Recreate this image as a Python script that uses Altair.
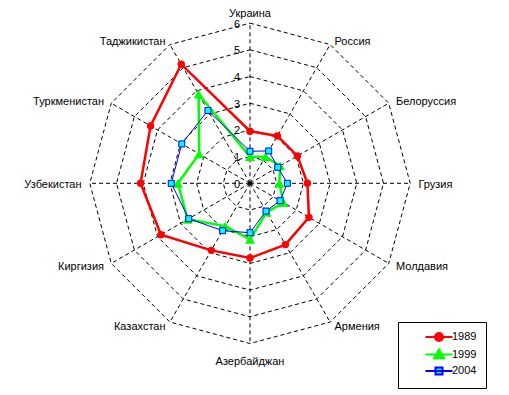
import altair as alt
import pandas as pd

categories = ["Украина", "Россия", "Белоруссия", "Грузия", "Молдавия", "Армения",
              "Азербайджан", "Казахстан", "Киргизия", "Узбекистан", "Туркменистан", "Таджикистан"]
series_names = ["1989", "1999", "2004"]
v1989 = [1.95, 2.05, 2.05, 2.15, 2.55, 2.65, 2.8, 2.9, 3.85, 4.1, 4.3, 5.15]
v1999 = [1.0, 1.15, 1.3, 1.1, 1.45, 1.25, 2.1, 1.85, 2.7, 2.7, 2.2, 3.85]
v2004 = [1.2, 1.4, 1.2, 1.4, 1.3, 1.2, 1.85, 2.05, 2.65, 2.95, 2.95, 3.15]
levels = [1, 2, 3, 4, 5, 6]
tick_labels = ["0", "1", "2", "3", "4", "5", "6"]

line_colors = ["#FF0000", "#00FF00", "#0000FF"]
marker_fill = ["#FF0000", "#00FF00", "#00FFFF"]
line_widths = [2.5, 2.5, 1]
marker_shapes = ["circle", "triangle-up", "square"]
marker_sizes = [55, 100, 36]
legend_paths = [
    "M-2.7,0H2.7M-0.8,0A0.8,0.8 0 1,0 0.8,0A0.8,0.8 0 1,0 -0.8,0Z",
    "M-2.7,0H2.7M0,-1L1,0.75L-1,0.75Z",
    "M-2.7,0H2.7M-0.7,-0.7H0.7V0.7H-0.7Z",
]

N = len(categories)
FONT = "Liberation Sans"
W, H = 493, 379
Y_TOP = 6.566
XS = alt.Scale(domain=[-9.064, 9.401], nice=False, zero=False)
YS = alt.Scale(domain=[-7.629, Y_TOP], nice=False, zero=False)
ANG = f"datum.i * 2 * PI / {N}"


def xy(chart, rfield):
    return chart.transform_calculate(
        a=ANG,
        x=f"{rfield} * sin(datum.a)",
        y=f"{rfield} * cos(datum.a)",
    )


X = alt.X("x:Q", scale=XS, axis=None)
Y = alt.Y("y:Q", scale=YS, axis=None)

# grid rings
ring_df = pd.DataFrame([{"lev": L, "i": k % N, "o": k} for L in levels for k in range(N + 1)])
rings = xy(alt.Chart(ring_df), "datum.lev").mark_line(
    color="black", strokeWidth=1, strokeDash=[4, 3]
).encode(x=X, y=Y, detail="lev:N", order="o:Q")

# spokes
spoke_df = pd.DataFrame({"i": list(range(N)), "r": [max(levels)] * N})
spokes = alt.Chart(spoke_df).transform_calculate(
    a=ANG,
    z="0",
    x2="datum.r * sin(datum.a)",
    y2="datum.r * cos(datum.a)",
).mark_rule(color="black", strokeWidth=1, strokeDash=[4, 3]).encode(
    x=alt.X("z:Q", scale=XS, axis=None),
    y=alt.Y("z:Q", scale=YS, axis=None),
    x2="x2:Q",
    y2="y2:Q",
)

layers = [rings, spokes]

# series
for idx, (name, vals) in enumerate(zip(series_names, [v1989, v1999, v2004])):
    df = pd.DataFrame({"i": [k % N for k in range(N + 1)], "o": list(range(N + 1)),
                       "v": [vals[k % N] for k in range(N + 1)]})
    ln = xy(alt.Chart(df), "datum.v").mark_line(
        color=line_colors[idx], strokeWidth=line_widths[idx]
    ).encode(x=X, y=Y, order="o:Q")
    if name == "2004":
        stroke_kw = dict(stroke=line_colors[idx], strokeWidth=1)
    else:
        stroke_kw = dict(strokeWidth=0)
    pt = xy(alt.Chart(df), "datum.v").transform_filter(f"datum.o < {N}").mark_point(
        shape=marker_shapes[idx], filled=True, fill=marker_fill[idx], opacity=1,
        size=marker_sizes[idx], **stroke_kw
    ).encode(x=X, y=Y)
    layers += [ln, pt]

# center dot
center = alt.Chart(pd.DataFrame({"v": [0]})).mark_point(
    filled=True, color="black", size=16, opacity=1
).encode(x=alt.X("v:Q", scale=XS, axis=None), y=alt.Y("v:Q", scale=YS, axis=None))
layers.append(center)

# tick labels
tick_df = pd.DataFrame({"t": tick_labels, "v": list(range(len(tick_labels)))})
ticks = alt.Chart(tick_df).transform_calculate(z="0").mark_text(
    align="right", baseline="middle", dx=-10, dy=1.5, font=FONT, fontSize=11, color="black"
).encode(x=alt.X("z:Q", scale=XS, axis=None), y=alt.Y("v:Q", scale=YS, axis=None), text="t:N")
layers.append(ticks)

# category labels
label_df = pd.DataFrame({"cat": categories, "i": list(range(N))})
R = max(levels)
lab_base = alt.Chart(label_df).transform_calculate(
    a=ANG,
    s="sin(datum.a)",
    c="cos(datum.a)",
)
side = lab_base.transform_calculate(
    x=f"datum.s * {R} + (datum.s > 0 ? 1 : -1) * (0.5 + 7.8 * abs(datum.s)) / 26.7",
    y=f"datum.c * {R} - (1.3 - 4.5 * datum.c) / 26.7",
)
right_lab = side.transform_filter("datum.s > 0.01").mark_text(
    align="left", baseline="middle", font=FONT, fontSize=11, color="black"
).encode(x=X, y=Y, text="cat:N")
left_lab = side.transform_filter("datum.s < -0.01").mark_text(
    align="right", baseline="middle", font=FONT, fontSize=11, color="black"
).encode(x=X, y=Y, text="cat:N")
top_lab = lab_base.transform_filter("abs(datum.s) <= 0.01 && datum.c > 0").transform_calculate(
    x="0",
    y=f"{Y_TOP}",
).mark_text(
    align="center", baseline="top", font=FONT, fontSize=11, color="black"
).encode(x=X, y=Y, text="cat:N")
bottom_lab = lab_base.transform_filter("abs(datum.s) <= 0.01 && datum.c < 0").transform_calculate(
    x="0",
    y=f"-{R} - 21.7 / 26.7",
).mark_text(
    align="center", baseline="alphabetic", font=FONT, fontSize=11, color="black"
).encode(x=X, y=Y, text="cat:N")
layers += [right_lab, left_lab, top_lab, bottom_lab]

# legend (empty layer carrying the legend)
leg_kw = dict(
    title=None, orient="none", legendX=390, legendY=314, fillColor="white",
    strokeColor="black", padding=9, cornerRadius=0, symbolSize=100,
    symbolStrokeWidth=2, symbolOffset=26, labelOffset=7, rowPadding=0.5,
    labelFont=FONT, labelFontSize=11, labelColor="black",
    labelExpr="datum.label + '\u00a0\u00a0\u00a0\u00a0\u00a0'",
)
leg_df = pd.DataFrame({"series": series_names})
legend_layer = alt.Chart(leg_df).transform_filter("false").mark_point(
    filled=True, opacity=1
).encode(
    fill=alt.Fill("series:N", scale=alt.Scale(domain=series_names, range=marker_fill),
                  legend=alt.Legend(**leg_kw)),
    stroke=alt.Stroke("series:N", scale=alt.Scale(domain=series_names, range=line_colors),
                      legend=alt.Legend(**leg_kw)),
    shape=alt.Shape("series:N", scale=alt.Scale(domain=series_names, range=legend_paths),
                    legend=alt.Legend(**leg_kw)),
)
layers.append(legend_layer)

chart = alt.layer(*layers).properties(
    width=W, height=H, padding=0, background="white"
).configure_view(stroke=None)

chart.save("out.html", embed_options={"renderer": "svg", "actions": False})
